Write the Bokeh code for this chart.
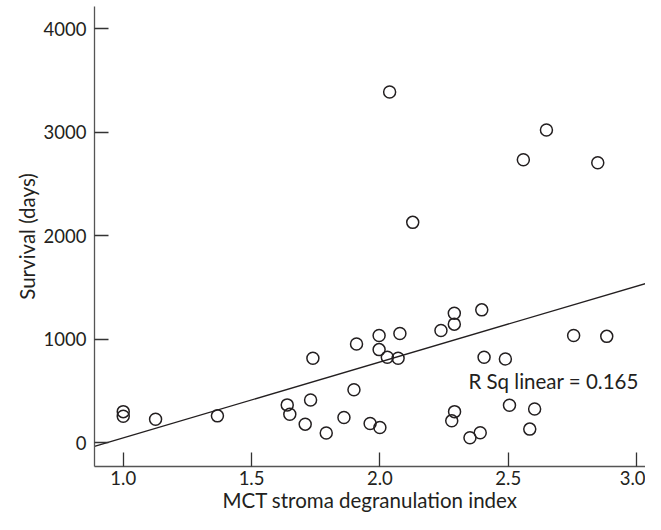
import numpy as np
from bokeh.plotting import figure
from bokeh.models import FixedTicker, NumeralTickFormatter, Range1d, Label
from bokeh.embed import file_html
from bokeh.resources import INLINE

# MCT stroma degranulation index
mct_index = [1.0, 1.0, 1.126, 1.367, 1.639, 1.649, 1.739, 1.730, 1.709, 1.791,
             1.860, 1.899, 1.909, 1.962, 2.0, 1.997, 1.997, 2.029, 2.071, 2.078,
             2.238, 2.290, 2.290, 2.397, 2.406, 2.489, 2.291, 2.280, 2.351, 2.391,
             2.505, 2.603, 2.584, 2.755, 2.884, 2.038, 2.649, 2.559, 2.849, 2.128]
# Survival (days)
survival = [303, 259, 230, 262, 368, 278, 819, 416, 182, 96,
            246, 514, 956, 188, 150, 1039, 902, 828, 819, 1058,
            1087, 1253, 1148, 1286, 828, 812, 303, 214, 51, 99,
            365, 329, 134, 1039, 1030, 3391, 3023, 2735, 2706, 2131]
x_ticks = [1.0, 1.5, 2.0, 2.5, 3.0]
y_ticks = [0, 1000, 2000, 3000, 4000]
r_sq_text = "R Sq linear = 0.165"

FONT = "Lato"
INK = "#231f20"

x0, x1 = 0.888, 3.035
p = figure(width=645, height=514, output_backend="svg", toolbar_location=None,
           x_range=Range1d(x0, x1), y_range=Range1d(-227, 4216),
           min_border_left=94, min_border_top=6, min_border_right=0, min_border_bottom=47)
p.outline_line_color = None
p.xgrid.visible = False
p.ygrid.visible = False

for ax in (p.xaxis[0], p.yaxis[0]):
    ax.major_tick_in = 14
    ax.major_tick_out = 0
    ax.minor_tick_line_color = None
    ax.axis_line_color = "#555555"
    ax.major_tick_line_color = "#333333"
    ax.axis_line_width = 1.3
    ax.major_tick_line_width = 1.3
    ax.major_label_text_font = FONT
    ax.major_label_text_font_size = "18.5px"
    ax.major_label_text_color = INK
    ax.axis_label_text_font = FONT
    ax.axis_label_text_font_size = "20.5px"
    ax.axis_label_text_font_style = "normal"
    ax.axis_label_text_color = INK

p.xaxis.ticker = FixedTicker(ticks=x_ticks)
p.xaxis.formatter = NumeralTickFormatter(format="0.0")
p.yaxis.ticker = FixedTicker(ticks=y_ticks)
p.xaxis.axis_label = "MCT stroma degranulation index"
p.yaxis.axis_label = "Survival (days)"
p.xaxis.major_label_standoff = 4
p.yaxis.major_label_standoff = 8
p.xaxis.axis_label_standoff = 0
p.yaxis.axis_label_standoff = 2

# linear fit
slope, intercept = np.polyfit(mct_index, survival, 1)
fx = np.array([x0, x1])
p.line(fx, intercept + slope * fx, line_color=INK, line_width=1.4)

p.scatter(mct_index, survival, marker="circle", size=12, fill_color=None,
          line_color=INK, line_width=1.5)

p.add_layout(Label(x=2.345, y=598, text=r_sq_text, text_font=FONT,
                   text_font_size="20.5px", text_color=INK, text_baseline="middle",
                   text_align="left"))

open("out.html", "w").write(file_html(p, INLINE))
